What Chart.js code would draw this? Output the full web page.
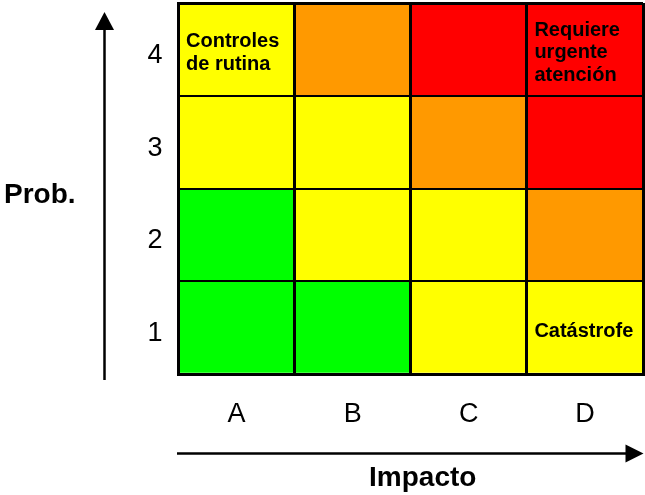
<!DOCTYPE html>
<html lang="es">
<head>
<meta charset="utf-8">
<title>Matriz de riesgo</title>
<script src="https://cdn.jsdelivr.net/npm/chart.js@4/dist/chart.umd.min.js"></script>
<style>
  html, body { margin: 0; padding: 0; background: #ffffff; }
  #wrap { width: 645px; height: 495px; }
</style>
</head>
<body>
<div id="wrap"><canvas id="matriz" width="645" height="495"></canvas></div>
<script>
// Categorías de impacto (columnas) y niveles de probabilidad (filas, de abajo hacia arriba)
const impacto = ['A', 'B', 'C', 'D'];
const probabilidad = ['1', '2', '3', '4'];

// Nivel de riesgo de cada celda, una lista por fila de probabilidad (columnas A–D)
const riesgoProb1 = ['bajo', 'bajo', 'medio', 'medio'];
const riesgoProb2 = ['bajo', 'medio', 'medio', 'alto'];
const riesgoProb3 = ['medio', 'medio', 'alto', 'extremo'];
const riesgoProb4 = ['medio', 'alto', 'extremo', 'extremo'];

// Cada celda ocupa una unidad de probabilidad
const alturaCelda = [1, 1, 1, 1];

// Notas escritas dentro de algunas celdas
const notaColumna = ['A', 'D', 'D'];
const notaFila = ['4', '4', '1'];
const notaTexto = [['Controles', 'de rutina'], ['Requiere', 'urgente', 'atención'], ['Catástrofe']];

const tituloX = 'Impacto';
const tituloY = 'Prob.';

const colorNivel = {
  bajo: '#00FF00',
  medio: '#FFFF00',
  alto: '#FF9900',
  extremo: '#FF0000'
};

const filas = [riesgoProb1, riesgoProb2, riesgoProb3, riesgoProb4];
const FUENTE = '"Liberation Sans", Arial, Helvetica, sans-serif';

const datasets = filas.map((fila, i) => ({
  label: tituloY + ' ' + probabilidad[i],
  data: alturaCelda.slice(),
  backgroundColor: fila.map(n => colorNivel[n]),
  borderWidth: 0,
  barPercentage: 1,
  categoryPercentage: 1
}));

// Sin márgenes extra por desbordes de etiquetas
function sinRelleno(scale) {
  scale.paddingTop = 0;
  scale.paddingBottom = 0;
  scale.paddingLeft = 0;
  scale.paddingRight = 0;
}

// Flechas de los ejes, títulos y notas de las celdas
const decoracion = {
  id: 'decoracion',
  afterDraw(chart) {
    const { ctx, chartArea: a, scales: { x, y } } = chart;
    ctx.save();

    // notas en las celdas
    const anchoCol = x.getPixelForValue(1) - x.getPixelForValue(0);
    const interlinea = 22.5;
    ctx.fillStyle = '#000000';
    ctx.font = 'bold 20px ' + FUENTE;
    ctx.textAlign = 'left';
    ctx.textBaseline = 'alphabetic';
    notaTexto.forEach((lineas, k) => {
      const ci = impacto.indexOf(notaColumna[k]);
      const ri = probabilidad.indexOf(notaFila[k]);
      const izq = x.getPixelForValue(ci) - anchoCol / 2 + 7.5;
      const cy = y.getPixelForValue(ri + 0.5);
      lineas.forEach((t, j) => {
        const base = cy + (j - (lineas.length - 1) / 2) * interlinea + 9;
        ctx.fillText(t, izq, base);
      });
    });

    // flecha vertical (probabilidad)
    const fx = a.left - 74;
    const fBase = a.bottom + 6;
    const fPunta = a.top + 9;
    ctx.strokeStyle = '#000000';
    ctx.lineWidth = 2.5;
    ctx.beginPath();
    ctx.moveTo(fx, fBase);
    ctx.lineTo(fx, fPunta + 16);
    ctx.stroke();
    ctx.beginPath();
    ctx.moveTo(fx, fPunta);
    ctx.lineTo(fx - 9.5, fPunta + 18);
    ctx.lineTo(fx + 9.5, fPunta + 18);
    ctx.closePath();
    ctx.fill();

    // flecha horizontal (impacto)
    const fy = a.bottom + 79.5;
    const hIni = a.left - 1.5;
    const hPunta = a.right + 0.5;
    ctx.beginPath();
    ctx.moveTo(hIni, fy);
    ctx.lineTo(hPunta - 16, fy);
    ctx.stroke();
    ctx.beginPath();
    ctx.moveTo(hPunta, fy);
    ctx.lineTo(hPunta - 18, fy - 9);
    ctx.lineTo(hPunta - 18, fy + 9);
    ctx.closePath();
    ctx.fill();

    // títulos de los ejes
    ctx.font = 'bold 28px ' + FUENTE;
    ctx.textAlign = 'left';
    ctx.fillText(tituloY, 4, 203);
    ctx.textAlign = 'center';
    ctx.fillText(tituloX, (a.left + a.right) / 2 + 12, 486);

    ctx.restore();
  }
};

new Chart(document.getElementById('matriz'), {
  type: 'bar',
  data: { labels: impacto, datasets },
  options: {
    responsive: false,
    animation: false,
    layout: { padding: { top: 3, right: 2, bottom: 0, left: 0 } },
    plugins: {
      legend: { display: false },
      tooltip: { enabled: false }
    },
    scales: {
      x: {
        stacked: true,
        offset: true,
        grid: {
          offset: true,
          color: '#000000',
          lineWidth: 3,
          drawTicks: false,
          z: 1
        },
        border: { display: true, color: '#000000', width: 3, z: 2 },
        ticks: {
          color: '#000000',
          font: { family: FUENTE, size: 27 },
          padding: 24
        },
        afterFit(scale) { scale.height = 121; sinRelleno(scale); }
      },
      y: {
        stacked: true,
        min: 0,
        max: 4,
        weight: 0,
        grid: {
          color: '#000000',
          lineWidth: ctx => (ctx.tick && (ctx.tick.value === 0 || ctx.tick.value === 4)) ? 3 : 2,
          drawTicks: false,
          z: 1
        },
        border: { display: true, color: '#000000', width: 3, z: 2 },
        ticks: { display: false, stepSize: 1 },
        afterFit(scale) { scale.width = 0; sinRelleno(scale); }
      },
      yEtiquetas: {
        type: 'category',
        position: 'left',
        labels: probabilidad.slice().reverse(),
        offset: true,
        weight: 1,
        grid: { display: false, drawTicks: false },
        border: { display: false },
        ticks: {
          color: '#000000',
          font: { family: FUENTE, size: 27 },
          padding: 16,
          labelOffset: 6
        },
        afterFit(scale) { scale.width = 178.5; sinRelleno(scale); }
      }
    }
  },
  plugins: [decoracion]
});
</script>
</body>
</html>
